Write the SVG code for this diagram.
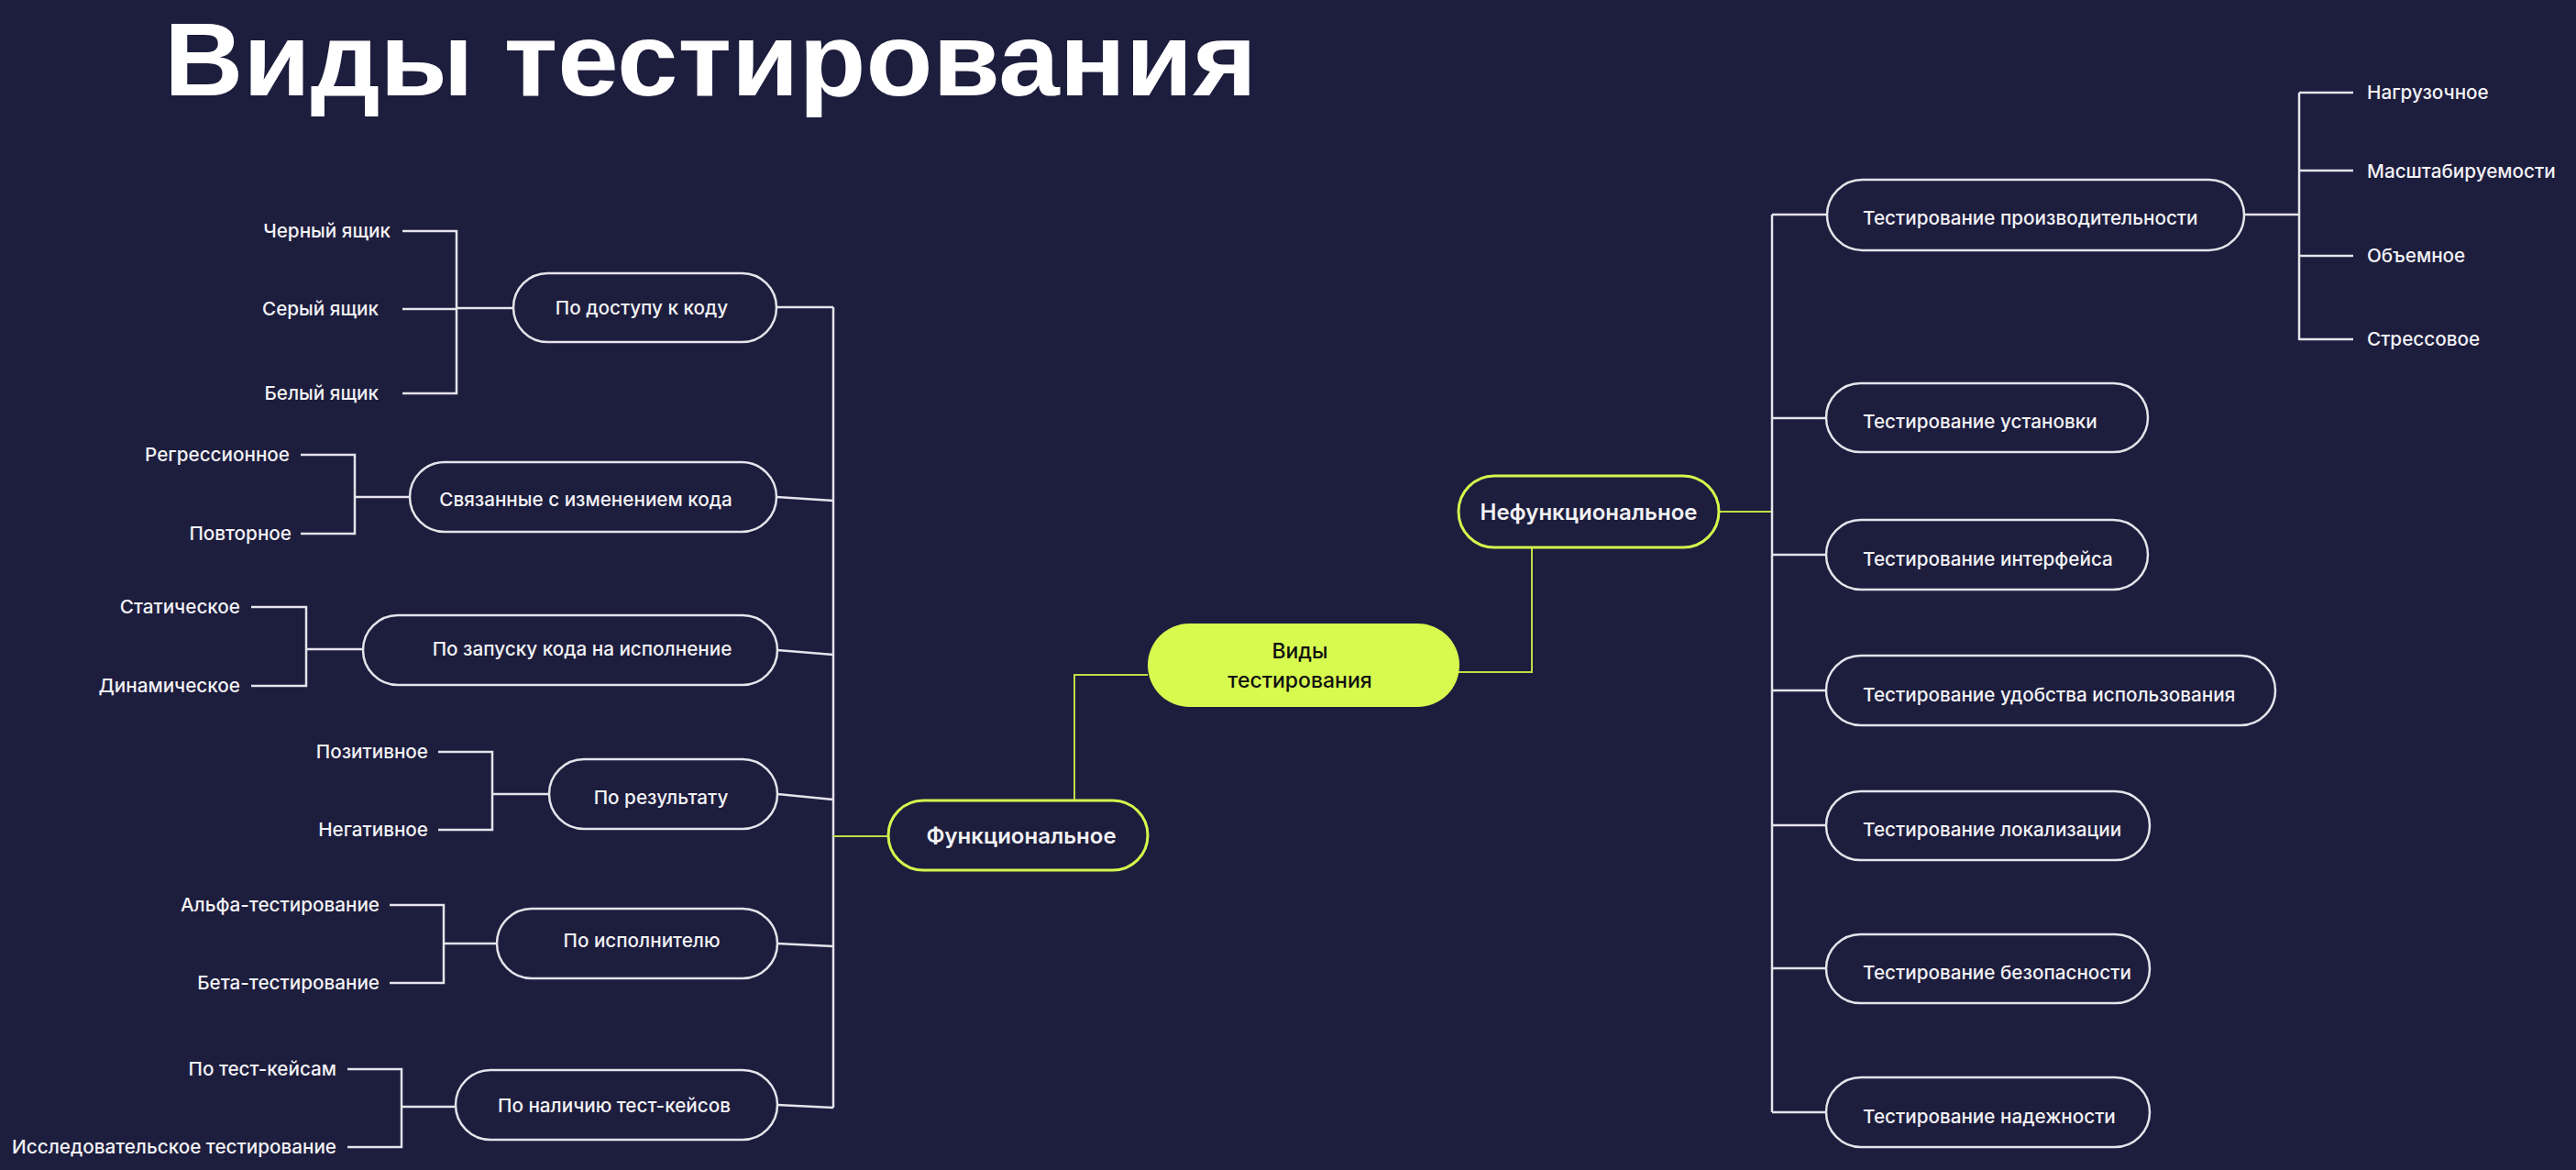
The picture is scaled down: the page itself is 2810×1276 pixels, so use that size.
<svg xmlns="http://www.w3.org/2000/svg" width="2810" height="1276" viewBox="0 0 2810 1276">
<style>
.bg{fill:#1d1d3e}
.node rect{fill:#1d1d3e;stroke:#e4e4ea;stroke-width:2.5}
.node.green rect{stroke:#d4f74c;stroke-width:3}
.node.root rect{fill:#d7fa4f;stroke:none}
.t{font-family:Inter,"Noto Sans","Liberation Sans",sans-serif;font-size:20.7px;font-weight:500;fill:#f2f2f4}
.tb{font-family:Inter,"Noto Sans","Liberation Sans",sans-serif;font-size:24px;font-weight:600;fill:#f2f2f4}
.tr{font-family:Inter,"Noto Sans","Liberation Sans",sans-serif;font-size:23px;font-weight:500;fill:#111111}
.title{font-family:"Liberation Sans",Arial,sans-serif;font-size:114px;font-weight:700;fill:#ffffff}
.c path{fill:none;stroke:#e4e4ea;stroke-width:2.5}
.c .g{stroke:#c2dc45;stroke-width:2}
</style>
<rect class="bg" x="0" y="0" width="2810" height="1276"/>
<text class="title" x="179" y="104" textLength="1192" lengthAdjust="spacingAndGlyphs">Виды тестирования</text>

<g class="c" id="connectors">
  <!-- left brackets -->
  <path d="M439,252 H498 V429 H439 M439,337 H498 M498,336 H560"/>
  <path d="M328,496 H387 V582 H328 M387,542 H447"/>
  <path d="M274,662 H334 V748 H274 M334,708 H396"/>
  <path d="M478,820 H537 V905 H478 M537,866 H599"/>
  <path d="M425,987 H484 V1072 H425 M484,1029 H542"/>
  <path d="M379,1166 H438 V1251 H379 M438,1207 H497"/>
  <!-- left trunk -->
  <path d="M909,335 V1208"/>
  <path d="M847,335 L909,335"/>
  <path d="M847,542 L909,546"/>
  <path d="M848,709 L909,714"/>
  <path d="M848,866 L909,872"/>
  <path d="M848,1029 L909,1032"/>
  <path d="M848,1205 L909,1208"/>
  <!-- green links -->
  <path class="g" d="M909,912 H969"/>
  <path class="g" d="M1252,736 H1172 V873"/>
  <path class="g" d="M1591,733 H1671 V597"/>
  <path class="g" d="M1875,558 H1933"/>
  <!-- right trunk -->
  <path d="M1933,234 V1213"/>
  <path d="M1933,234 H1993 M1933,456 H1992 M1933,605 H1992 M1933,753 H1992 M1933,900 H1992 M1933,1056 H1992 M1933,1213 H1992"/>
  <!-- perf sub -->
  <path d="M2448,234 H2508 M2508,101 V371 M2508,101 H2567 M2508,186 H2567 M2508,279 H2567 M2508,370 H2567"/>
</g>

<!-- left leaf labels -->
<g id="leaf-black"><text class="t" x="426" y="259" text-anchor="end">Черный ящик</text></g>
<g id="leaf-gray"><text class="t" x="413" y="344" text-anchor="end">Серый ящик</text></g>
<g id="leaf-white"><text class="t" x="413" y="436" text-anchor="end">Белый ящик</text></g>
<g id="leaf-regr"><text class="t" x="316" y="503" text-anchor="end">Регрессионное</text></g>
<g id="leaf-repeat"><text class="t" x="318" y="589" text-anchor="end">Повторное</text></g>
<g id="leaf-static"><text class="t" x="262" y="669" text-anchor="end">Статическое</text></g>
<g id="leaf-dynamic"><text class="t" x="262" y="755" text-anchor="end">Динамическое</text></g>
<g id="leaf-pos"><text class="t" x="467" y="827" text-anchor="end">Позитивное</text></g>
<g id="leaf-neg"><text class="t" x="467" y="912" text-anchor="end">Негативное</text></g>
<g id="leaf-alpha"><text class="t" x="414" y="994" text-anchor="end">Альфа-тестирование</text></g>
<g id="leaf-beta"><text class="t" x="414" y="1079" text-anchor="end">Бета-тестирование</text></g>
<g id="leaf-tc"><text class="t" x="367" y="1173" text-anchor="end">По тест-кейсам</text></g>
<g id="leaf-explore"><text class="t" x="367" y="1258" text-anchor="end">Исследовательское тестирование</text></g>

<!-- left category nodes -->
<g class="node" id="n-access"><rect x="560" y="298" width="287" height="75" rx="37.5"/><text class="t" x="700" y="343" text-anchor="middle">По доступу к коду</text></g>
<g class="node" id="n-change"><rect x="447" y="504" width="400" height="76" rx="38"/><text class="t" x="639" y="552" text-anchor="middle">Связанные с изменением кода</text></g>
<g class="node" id="n-run"><rect x="396" y="671" width="452" height="76" rx="38"/><text class="t" x="635" y="715" text-anchor="middle">По запуску кода на исполнение</text></g>
<g class="node" id="n-result"><rect x="599" y="828" width="249" height="76" rx="38"/><text class="t" x="721" y="877" text-anchor="middle">По результату</text></g>
<g class="node" id="n-exec"><rect x="542" y="991" width="306" height="76" rx="38"/><text class="t" x="700" y="1033" text-anchor="middle">По исполнителю</text></g>
<g class="node" id="n-cases"><rect x="497" y="1167" width="351" height="76" rx="38"/><text class="t" x="670" y="1213" text-anchor="middle">По наличию тест-кейсов</text></g>

<!-- main nodes -->
<g class="node green" id="n-func"><rect x="969" y="873" width="283" height="76" rx="38"/><text class="tb" x="1114" y="920" text-anchor="middle">Функциональное</text></g>
<g class="node root" id="n-root"><rect x="1252" y="680" width="340" height="91" rx="45.5"/><text class="tr" x="1418" y="718" text-anchor="middle">Виды</text><text class="tr" x="1418" y="750" text-anchor="middle">тестирования</text></g>
<g class="node green" id="n-nonfunc"><rect x="1591" y="519" width="284" height="78" rx="39"/><text class="tb" x="1733" y="567" text-anchor="middle">Нефункциональное</text></g>

<!-- right nodes -->
<g class="node" id="n-perf"><rect x="1993" y="196" width="455" height="77" rx="38.5"/><text class="t" x="2032" y="245">Тестирование производительности</text></g>
<g class="node" id="n-install"><rect x="1992" y="418" width="351" height="75" rx="37.5"/><text class="t" x="2032" y="467">Тестирование установки</text></g>
<g class="node" id="n-ui"><rect x="1992" y="567" width="351" height="76" rx="38"/><text class="t" x="2032" y="617">Тестирование интерфейса</text></g>
<g class="node" id="n-usab"><rect x="1992" y="715" width="490" height="76" rx="38"/><text class="t" x="2032" y="765">Тестирование удобства использования</text></g>
<g class="node" id="n-loc"><rect x="1992" y="863" width="353" height="75" rx="37.5"/><text class="t" x="2032" y="912">Тестирование локализации</text></g>
<g class="node" id="n-sec"><rect x="1992" y="1019" width="353" height="75" rx="37.5"/><text class="t" x="2032" y="1068">Тестирование безопасности</text></g>
<g class="node" id="n-rel"><rect x="1992" y="1175" width="353" height="76" rx="38"/><text class="t" x="2032" y="1225">Тестирование надежности</text></g>

<!-- perf sub labels -->
<g id="leaf-load"><text class="t" x="2582" y="108">Нагрузочное</text></g>
<g id="leaf-scale"><text class="t" x="2582" y="194">Масштабируемости</text></g>
<g id="leaf-volume"><text class="t" x="2582" y="286">Объемное</text></g>
<g id="leaf-stress"><text class="t" x="2582" y="377">Стрессовое</text></g>
</svg>
